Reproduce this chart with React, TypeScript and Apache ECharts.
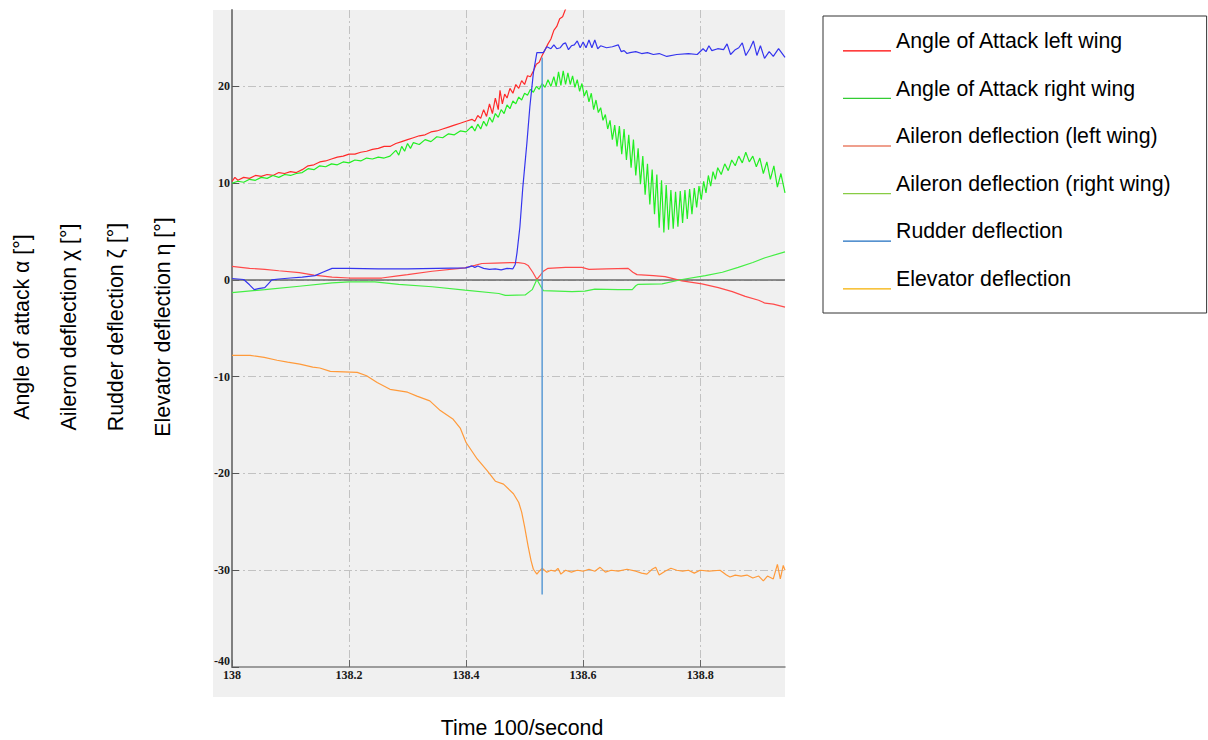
import React, { useEffect, useRef } from "react";
import * as echarts from "echarts";

// ---- Data (time in 1/100 s, value in degrees) ----
const aoaLeft: [number, number][] = [
  [138.0, 10.2], [138.005, 10.6], [138.01, 10.3], [138.02, 10.6], [138.03, 10.5], [138.04, 10.8],
  [138.05, 10.7], [138.06, 10.9], [138.07, 10.8], [138.08, 11.1], [138.09, 11.0], [138.1, 11.2],
  [138.11, 11.1], [138.12, 11.4], [138.13, 11.8], [138.14, 11.9], [138.15, 12.2], [138.16, 12.3],
  [138.17, 12.5], [138.18, 12.7], [138.19, 12.8], [138.2, 13.0], [138.21, 13.0], [138.22, 13.2],
  [138.23, 13.3], [138.24, 13.5], [138.25, 13.6], [138.26, 13.8], [138.27, 13.8], [138.28, 14.1],
  [138.29, 14.3], [138.3, 14.5], [138.31, 14.7], [138.32, 14.9], [138.33, 15.0], [138.34, 15.3],
  [138.35, 15.4], [138.36, 15.6], [138.37, 15.8], [138.38, 16.0], [138.39, 16.2], [138.4, 16.4],
  [138.41, 16.6], [138.415, 16.4], [138.42, 17.0], [138.425, 16.7], [138.43, 17.6], [138.435, 16.9],
  [138.44, 18.2], [138.445, 17.2], [138.45, 18.8], [138.455, 17.6], [138.458, 19.6], [138.462, 18.2],
  [138.466, 19.2], [138.47, 18.8], [138.475, 19.8], [138.48, 19.3], [138.485, 20.2], [138.49, 19.8],
  [138.495, 20.6], [138.5, 20.2], [138.505, 21.1], [138.51, 21.0], [138.515, 21.6], [138.52, 22.3],
  [138.525, 22.5], [138.53, 23.2], [138.535, 23.8], [138.54, 24.4], [138.545, 24.9], [138.55, 25.8],
  [138.555, 26.2], [138.56, 27.0], [138.565, 27.2], [138.57, 28.0], [138.575, 28.4], [138.58, 29.2],
];

const aoaRight: [number, number][] = [
  [138.0, 10.0], [138.01, 10.2], [138.02, 10.1], [138.03, 10.4], [138.04, 10.3], [138.05, 10.6],
  [138.06, 10.5], [138.07, 10.8], [138.08, 10.6], [138.09, 10.9], [138.1, 10.8], [138.11, 11.0],
  [138.12, 11.1], [138.13, 11.5], [138.14, 11.4], [138.15, 11.8], [138.16, 11.7], [138.17, 12.0],
  [138.18, 11.9], [138.19, 12.2], [138.2, 12.1], [138.21, 12.4], [138.22, 12.3], [138.23, 12.6],
  [138.24, 12.5], [138.25, 12.7], [138.26, 12.6], [138.27, 12.8], [138.28, 13.4], [138.285, 12.9],
  [138.29, 13.8], [138.295, 13.3], [138.3, 14.1], [138.305, 13.6], [138.31, 14.2], [138.32, 14.0],
  [138.33, 14.5], [138.34, 14.3], [138.35, 14.8], [138.36, 14.7], [138.37, 15.1], [138.38, 15.0],
  [138.39, 15.4], [138.4, 15.3], [138.41, 15.9], [138.415, 15.4], [138.42, 16.1], [138.425, 15.6],
  [138.43, 16.4], [138.435, 15.9], [138.44, 16.8], [138.445, 16.3], [138.45, 17.2], [138.455, 16.8],
  [138.46, 17.6], [138.465, 17.2], [138.47, 18.1], [138.475, 17.7], [138.48, 18.5], [138.485, 18.2],
  [138.49, 18.9], [138.495, 18.6], [138.5, 19.3], [138.505, 19.1], [138.51, 19.7], [138.515, 19.4],
  [138.52, 20.0], [138.525, 19.7], [138.53, 20.3], [138.535, 19.9], [138.54, 20.7], [138.545, 20.0],
  [138.55, 21.0], [138.554, 20.0], [138.558, 21.5], [138.562, 20.1], [138.566, 21.6], [138.57, 20.2],
  [138.574, 21.4], [138.578, 20.2], [138.582, 21.1], [138.586, 19.9], [138.59, 20.7], [138.594, 19.5],
  [138.598, 20.3], [138.602, 19.0], [138.606, 19.6], [138.61, 18.4], [138.614, 19.3], [138.618, 17.6],
  [138.622, 18.6], [138.626, 17.3], [138.63, 17.8], [138.634, 16.5], [138.638, 17.1], [138.642, 15.6],
  [138.646, 16.5], [138.65, 14.5], [138.654, 16.0], [138.658, 13.8], [138.662, 15.9], [138.666, 13.0],
  [138.67, 15.6], [138.674, 12.4], [138.678, 15.0], [138.682, 11.6], [138.686, 14.5], [138.69, 10.8],
  [138.694, 13.6], [138.698, 9.9], [138.702, 12.8], [138.706, 8.8], [138.71, 12.0], [138.714, 7.8],
  [138.718, 11.4], [138.722, 6.8], [138.726, 10.9], [138.73, 5.4], [138.734, 10.3], [138.738, 4.9],
  [138.742, 9.8], [138.746, 5.2], [138.75, 9.3], [138.754, 5.3], [138.758, 9.1], [138.762, 5.5],
  [138.766, 9.2], [138.77, 5.9], [138.774, 9.3], [138.778, 6.3], [138.782, 9.4], [138.786, 6.8],
  [138.79, 9.5], [138.794, 7.5], [138.798, 9.7], [138.802, 8.3], [138.806, 10.2], [138.81, 9.0],
  [138.814, 10.8], [138.818, 9.7], [138.822, 11.2], [138.826, 10.4], [138.83, 11.6], [138.836, 10.9],
  [138.842, 12.0], [138.848, 11.3], [138.854, 12.4], [138.86, 11.8], [138.866, 12.8], [138.872, 12.1],
  [138.878, 13.2], [138.884, 12.2], [138.89, 12.8], [138.896, 11.7], [138.902, 12.6], [138.908, 11.0],
  [138.914, 12.2], [138.92, 10.4], [138.926, 11.8], [138.932, 9.6], [138.938, 11.0], [138.945, 9.0],
];

const aileronLeft: [number, number][] = [
  [138.0, 1.4], [138.03, 1.2], [138.056, 1.1], [138.08, 0.95], [138.115, 0.75], [138.14, 0.5],
  [138.171, 0.3], [138.2, 0.2], [138.256, 0.2], [138.28, 0.4], [138.3, 0.55], [138.342, 0.9],
  [138.398, 1.25], [138.415, 1.5], [138.427, 1.7], [138.45, 1.75], [138.479, 1.8], [138.489, 1.8],
  [138.5, 1.7], [138.506, 1.5], [138.514, 0.8], [138.521, 0.05], [138.527, 0.5], [138.532, 0.9],
  [138.54, 1.2], [138.57, 1.3], [138.598, 1.3], [138.61, 1.1], [138.64, 1.15], [138.677, 1.2],
  [138.685, 0.8], [138.692, 0.55], [138.72, 0.45], [138.74, 0.35], [138.769, -0.1], [138.803, -0.4],
  [138.831, -0.8], [138.855, -1.2], [138.877, -1.7], [138.9, -2.1], [138.911, -2.4], [138.925, -2.5],
  [138.945, -2.8],
];

const aileronRight: [number, number][] = [
  [138.0, -1.3], [138.056, -1.0], [138.115, -0.65], [138.171, -0.3], [138.2, -0.2], [138.244, -0.2],
  [138.285, -0.45], [138.342, -0.7], [138.398, -1.05], [138.456, -1.4], [138.467, -1.6], [138.501, -1.55],
  [138.513, -1.0], [138.521, 0.05], [138.527, -0.6], [138.532, -1.1], [138.581, -1.2], [138.603, -1.15],
  [138.62, -0.95], [138.66, -1.0], [138.684, -1.0], [138.69, -0.6], [138.694, -0.45], [138.735, -0.4],
  [138.769, 0.05], [138.809, 0.45], [138.838, 0.8], [138.865, 1.3], [138.89, 1.8], [138.911, 2.3],
  [138.945, 2.9],
];

const rudder: [number, number][] = [
  [138.0, 0.15], [138.01, 0.1], [138.02, 0.05], [138.03, -0.5], [138.038, -1.0], [138.045, -0.9],
  [138.056, -0.8], [138.062, -0.4], [138.068, 0.0], [138.08, 0.1], [138.1, 0.2], [138.12, 0.3],
  [138.142, 0.45], [138.155, 0.8], [138.171, 1.2], [138.2, 1.2], [138.25, 1.15], [138.3, 1.15],
  [138.35, 1.2], [138.4, 1.25], [138.41, 1.45], [138.415, 1.3], [138.42, 1.45], [138.43, 1.2],
  [138.44, 1.1], [138.45, 1.15], [138.46, 1.05], [138.47, 1.2], [138.48, 1.15], [138.484, 1.6],
  [138.487, 2.8], [138.492, 5.5], [138.497, 9.6], [138.504, 14.2], [138.509, 17.9], [138.515, 21.4],
  [138.521, 23.5], [138.532, 23.5], [138.538, 24.1], [138.545, 23.9], [138.55, 24.3], [138.555, 23.9],
  [138.561, 24.0], [138.566, 24.4], [138.57, 24.5], [138.575, 23.8], [138.58, 24.2], [138.585, 24.3],
  [138.59, 24.7], [138.595, 24.0], [138.6, 24.6], [138.605, 24.0], [138.61, 24.8], [138.615, 24.0],
  [138.62, 24.8], [138.625, 23.9], [138.63, 24.2], [138.64, 24.0], [138.65, 24.1], [138.66, 24.3],
  [138.665, 23.6], [138.67, 23.7], [138.675, 23.4], [138.68, 23.5], [138.69, 23.6], [138.7, 23.4],
  [138.71, 23.5], [138.72, 23.3], [138.73, 23.4], [138.743, 23.1], [138.76, 23.3], [138.78, 23.4],
  [138.795, 23.3], [138.805, 23.9], [138.81, 23.6], [138.815, 24.2], [138.82, 23.7], [138.83, 23.9],
  [138.84, 23.8], [138.846, 24.4], [138.852, 23.3], [138.86, 23.8], [138.866, 24.0], [138.872, 24.5],
  [138.878, 23.2], [138.885, 23.9], [138.891, 24.7], [138.897, 23.2], [138.903, 24.2], [138.91, 22.9],
  [138.918, 23.6], [138.925, 23.1], [138.934, 23.9], [138.945, 23.0],
];

const elevator: [number, number][] = [
  [138.0, -7.8], [138.031, -7.8], [138.055, -8.0], [138.077, -8.3], [138.095, -8.5], [138.116, -8.7],
  [138.138, -9.0], [138.15, -9.1], [138.168, -9.45], [138.214, -9.55], [138.23, -9.9], [138.248, -10.6],
  [138.27, -11.3], [138.3, -11.6], [138.316, -12.0], [138.338, -12.5], [138.356, -13.5], [138.378, -14.4],
  [138.39, -15.3], [138.4, -16.8], [138.419, -18.5], [138.436, -19.7], [138.45, -20.8], [138.464, -21.1],
  [138.481, -22.1], [138.49, -23.0], [138.495, -24.0], [138.5, -25.5], [138.506, -27.5], [138.511, -29.0],
  [138.515, -29.9], [138.521, -30.4], [138.525, -30.1], [138.53, -29.8], [138.538, -30.2], [138.545, -30.0],
  [138.552, -30.1], [138.557, -29.8], [138.562, -30.4], [138.57, -30.0], [138.58, -30.2], [138.59, -30.0],
  [138.6, -30.1], [138.61, -29.9], [138.62, -30.1], [138.629, -29.7], [138.638, -30.2], [138.648, -30.0],
  [138.66, -30.1], [138.675, -29.9], [138.69, -30.1], [138.7, -30.3], [138.709, -30.4], [138.718, -29.9],
  [138.724, -29.7], [138.73, -30.5], [138.74, -30.1], [138.75, -29.8], [138.76, -30.0], [138.77, -30.1],
  [138.78, -30.0], [138.79, -30.3], [138.8, -30.0], [138.815, -30.1], [138.834, -30.0], [138.845, -30.5],
  [138.851, -30.7], [138.86, -30.5], [138.87, -30.6], [138.88, -30.5], [138.89, -30.8], [138.9, -30.6],
  [138.908, -31.1], [138.915, -30.6], [138.925, -30.9], [138.932, -29.4], [138.937, -30.9], [138.942, -29.5],
  [138.945, -30.0],
];

const cursorLine: [number, number][] = [[138.53, 23.0], [138.53, -32.5]];
const zeroLine: [number, number][] = [[138.0, 0], [138.945, 0]];

const X_MIN = 138;
const X_MAX = 138.945;
const Y_MIN = -40;
const Y_MAX = 27.9;

const seriesNames = [
  "Angle of Attack left wing",
  "Angle of Attack right wing",
  "Aileron deflection (left wing)",
  "Aileron deflection (right wing)",
  "Rudder deflection",
  "Elevator deflection",
];
const lineColors = ["#ff2a2a", "#22ee22", "#ff4a4a", "#44ee44", "#3535ee", "#ff9a3a"];
const legendColors = ["#ff0000", "#33cc33", "#e0401c", "#88cc44", "#1f6fc0", "#f5b000"];
const yTitles = ["Angle of attack α [°]", "Aileron deflection χ [°]", "Rudder deflection ζ [°]", "Elevator deflection η [°]"];
const yTitleX = [22, 69, 116, 163];
const xTitle = "Time 100/second";

const SANS = "'Liberation Sans', Arial, sans-serif";
const LEGEND_ICON = "path://M0,0h0.01v0.01h-0.01zM0,20.2h48v1.2h-48zM47.99,21.99h0.01v0.01h-0.01z";

export default function App() {
  const ref = useRef<HTMLDivElement>(null);
  useEffect(() => {
    if (!ref.current) return;
    const chart = echarts.init(ref.current, undefined, { renderer: "svg" });
    const dataSets = [aoaLeft, aoaRight, aileronLeft, aileronRight, rudder, elevator];
    const labelFont = {
      fontFamily: "'Liberation Serif', 'Times New Roman', serif",
      fontWeight: "bold" as const,
      fontSize: 12,
      color: "#1a1a1a",
    };
    const gridLine = { show: true, showMinLine: false, showMaxLine: false, lineStyle: { type: [8, 3, 2, 3], color: "#c2c2c2", width: 1 } };
    const option: any = {
      animation: false,
      backgroundColor: "#ffffff",
      grid: { left: 232, top: 10, right: 423, bottom: 73, containLabel: false },
      xAxis: {
        type: "value",
        min: X_MIN,
        max: X_MAX,
        interval: 0.2,
        axisLine: { onZero: false, lineStyle: { color: "#808080", width: 1.5 } },
        axisTick: { inside: true, length: 7, lineStyle: { color: "#666" } },
        axisLabel: { ...labelFont, margin: 2, showMaxLabel: false },
        splitLine: gridLine,
      },
      yAxis: {
        type: "value",
        min: Y_MIN,
        max: Y_MAX,
        interval: 10,
        axisLine: { show: true, lineStyle: { color: "#808080", width: 2 } },
        axisTick: { show: true, inside: true, length: 7, lineStyle: { color: "#555" } },
        axisLabel: {
          ...labelFont,
          margin: 2,
          showMaxLabel: false,
          formatter: (v: number) => (v === Y_MIN ? `{low|${v}}` : `${v}`),
          rich: { low: { ...labelFont, padding: [0, 0, 12, 0] } },
        },
        splitLine: gridLine,
      },
      legend: {
        orient: "vertical",
        left: 823,
        top: 16,
        padding: [14, 36, 23, 20],
        itemWidth: 48,
        itemHeight: 22,
        itemGap: 25.6,
        selectedMode: false,
        backgroundColor: "#ffffff",
        borderColor: "#333333",
        borderWidth: 1,
        textStyle: { fontFamily: SANS, fontSize: 21.3, color: "#000" },
        data: seriesNames.map((n, i) => ({ name: n, icon: LEGEND_ICON, itemStyle: { color: legendColors[i], borderWidth: 0 } })),
      },
      graphic: [
        { type: "rect", z: -10, silent: true, shape: { x: 213, y: 10, width: 572, height: 687 }, style: { fill: "#f0f0f0" } },
        ...yTitles.map((t, i) => ({
          type: "text",
          x: yTitleX[i],
          y: 327,
          rotation: Math.PI / 2,
          silent: true,
          style: { text: t, fill: "#000", font: `21.3px ${SANS}`, textAlign: "center", textVerticalAlign: "middle" },
        })),
        {
          type: "text",
          x: 522,
          y: 728,
          silent: true,
          style: { text: xTitle, fill: "#000", font: `21.3px ${SANS}`, textAlign: "center", textVerticalAlign: "middle" },
        },
      ],
      series: [
        {
          name: "zero",
          type: "line",
          data: zeroLine,
          showSymbol: false,
          silent: true,
          z: 1,
          lineStyle: { color: "#6a6a6a", width: 1.5 },
        },
        ...[5, 2, 3, 0, 1, 4].map((i) => ({
          name: seriesNames[i],
          type: "line",
          data: dataSets[i],
          showSymbol: false,
          symbol: "none",
          clip: true,
          color: lineColors[i],
          lineStyle: { color: lineColors[i], width: 1.2 },
        })),
        {
          name: "cursor",
          type: "line",
          data: cursorLine,
          showSymbol: false,
          symbol: "none",
          silent: true,
          lineStyle: { color: "#5b9bd5", width: 1.5 },
        },
      ],
    };
    chart.setOption(option);
    return () => chart.dispose();
  }, []);
  return <div ref={ref} style={{ position: "absolute", left: 0, top: 0, width: 1208, height: 740 }} />;
}
